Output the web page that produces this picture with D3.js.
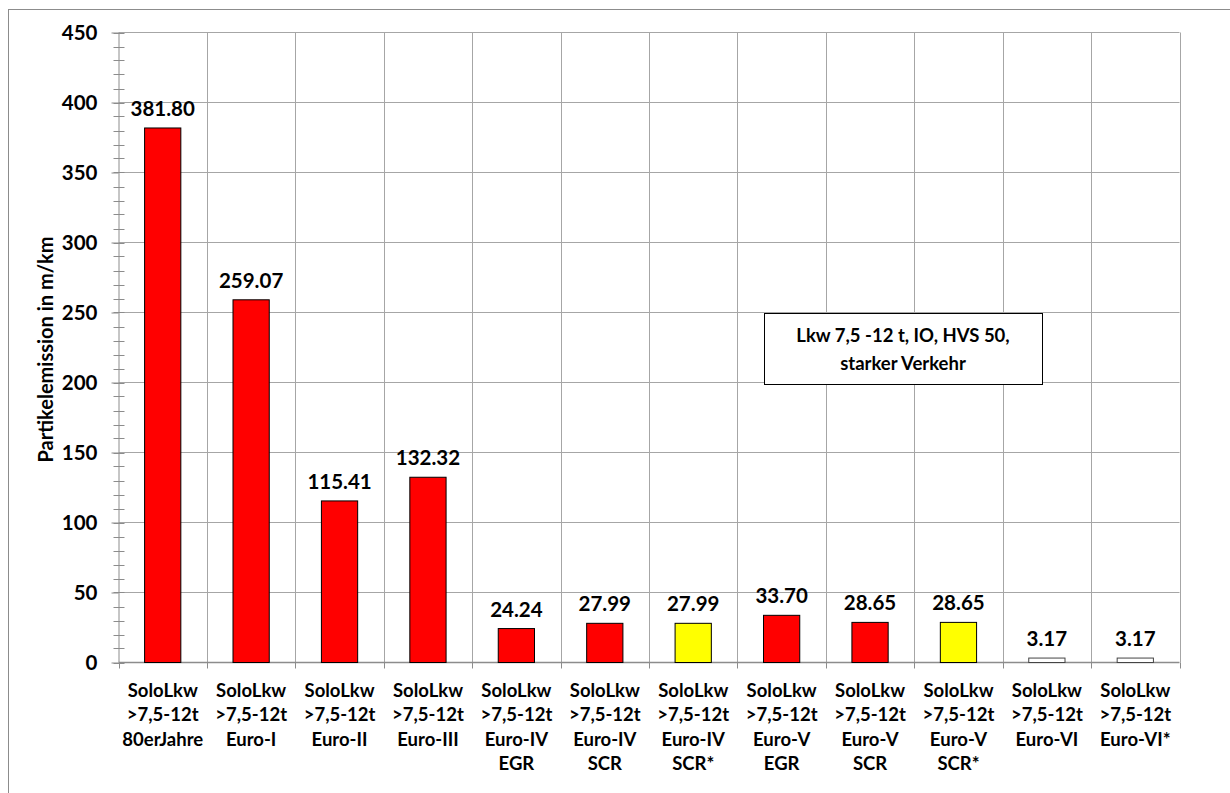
<!DOCTYPE html>
<html><head><meta charset="utf-8">
<script src="https://cdn.jsdelivr.net/npm/d3@7"></script>
<style>
html,body{margin:0;padding:0;background:#fff;}
svg{display:block;}
text{font-family:Lato,"Open Sans",sans-serif;font-weight:bold;fill:#000;}
</style></head>
<body>
<svg id="c" width="1230" height="793"></svg>
<script>
const categories = [
  ["SoloLkw", ">7,5-12t", "80erJahre"],
  ["SoloLkw", ">7,5-12t", "Euro-I"],
  ["SoloLkw", ">7,5-12t", "Euro-II"],
  ["SoloLkw", ">7,5-12t", "Euro-III"],
  ["SoloLkw", ">7,5-12t", "Euro-IV", "EGR"],
  ["SoloLkw", ">7,5-12t", "Euro-IV", "SCR"],
  ["SoloLkw", ">7,5-12t", "Euro-IV", "SCR*"],
  ["SoloLkw", ">7,5-12t", "Euro-V", "EGR"],
  ["SoloLkw", ">7,5-12t", "Euro-V", "SCR"],
  ["SoloLkw", ">7,5-12t", "Euro-V", "SCR*"],
  ["SoloLkw", ">7,5-12t", "Euro-VI"],
  ["SoloLkw", ">7,5-12t", "Euro-VI*"]
];
const values = [381.80, 259.07, 115.41, 132.32, 24.24, 27.99, 27.99, 33.70, 28.65, 28.65, 3.17, 3.17];
const groups = ["std","std","std","std","std","std","star","std","std","star","vi","vi"];
const yTicks = [0, 50, 100, 150, 200, 250, 300, 350, 400, 450];
const yTitle = "Partikelemission in m/km";
const noteLines = ["Lkw 7,5 -12 t, IO, HVS 50,", "starker Verkehr"];

const fillFor = {std: "#ff0000", star: "#ffff00", vi: "#ffffff"};

const svg = d3.select("#c");
const L = 118.5, R = 1179.5, T = 32.5, B = 662.5;

// outer frame
svg.append("rect").attr("x", 8.5).attr("y", 9.5).attr("width", 1400).attr("height", 1000)
  .attr("fill", "none").attr("stroke", "#8c8c8c").attr("stroke-width", 1);

const x = d3.scaleBand().domain(d3.range(categories.length)).range([L, R]).paddingInner(0).paddingOuter(0);
const y = d3.scaleLinear().domain([0, 450]).range([B, T]);
const bw = x.bandwidth() * 0.41;

const grid = "#a6a6a6";
svg.append("g").selectAll("line").data(yTicks.filter(d => d > 0)).join("line")
  .attr("x1", L).attr("x2", R).attr("y1", d => y(d)).attr("y2", d => y(d))
  .attr("stroke", grid).attr("stroke-width", 1);
const bounds = d3.range(categories.length + 1).map(i => L + i * x.step());
svg.append("g").selectAll("line").data(bounds.slice(1)).join("line")
  .attr("x1", d => Math.round(d) + 0.5).attr("x2", d => Math.round(d) + 0.5)
  .attr("y1", T).attr("y2", B)
  .attr("stroke", grid).attr("stroke-width", 1);
svg.append("g").selectAll("line").data(bounds).join("line")
  .attr("x1", d => Math.round(d) + 0.5).attr("x2", d => Math.round(d) + 0.5)
  .attr("y1", B).attr("y2", B + 6)
  .attr("stroke", "#8c8c8c").attr("stroke-width", 1);

const yAxis = d3.axisLeft(y).tickValues(yTicks).tickSize(7).tickPadding(14).tickFormat(d3.format("d"));
const gy = svg.append("g").attr("transform", `translate(${L},0)`).call(yAxis);
gy.select(".domain").attr("stroke", "#8c8c8c").attr("d", `M0.5,${T}V${B}`);
gy.selectAll(".tick line").attr("stroke", "#8c8c8c");
gy.selectAll(".tick text").attr("font-size", 20.5).attr("font-family", "Lato, sans-serif").attr("font-weight", "bold").attr("fill", "#000");
svg.append("g").selectAll("line").data(d3.range(0, 451, 10)).join("line")
  .attr("x1", L - 5).attr("x2", L + 6).attr("y1", d => Math.round(y(d)) + 0.5).attr("y2", d => Math.round(y(d)) + 0.5)
  .attr("stroke", "#8c8c8c").attr("stroke-width", 1);
svg.append("line").attr("x1", L).attr("x2", R).attr("y1", B).attr("y2", B)
  .attr("stroke", "#8c8c8c").attr("stroke-width", 1.5);

svg.append("g").selectAll("rect").data(values).join("rect")
  .attr("x", (d, i) => x(i) + x.bandwidth() / 2 - bw / 2)
  .attr("y", d => y(d))
  .attr("width", bw)
  .attr("height", d => B - y(d))
  .attr("fill", (d, i) => fillFor[groups[i]])
  .attr("stroke", (d, i) => groups[i] === "vi" ? "#444" : "#000")
  .attr("stroke-width", 1);

svg.append("g").selectAll("text").data(values).join("text")
  .attr("x", (d, i) => x(i) + x.bandwidth() / 2)
  .attr("y", d => y(d) - 12)
  .attr("text-anchor", "middle").attr("font-size", 20.5)
  .text(d => d.toFixed(2));

const cl = svg.append("g").selectAll("text").data(categories).join("text")
  .attr("text-anchor", "middle").attr("font-size", 18.5)
  .attr("transform", (d, i) => `translate(${x(i) + x.bandwidth() / 2},697)`);
cl.selectAll("tspan").data(d => d).join("tspan")
  .attr("x", 0).attr("dy", (d, i) => i === 0 ? 0 : 24.3).text(d => d);

svg.append("text").attr("transform", `translate(53,${(T + B) / 2 + 2}) rotate(-90)`)
  .attr("text-anchor", "middle").attr("font-size", 20).text(yTitle);

const nb = svg.append("g");
nb.append("rect").attr("x", 764.5).attr("y", 313.5).attr("width", 278).attr("height", 71)
  .attr("fill", "#fff").attr("stroke", "#000").attr("stroke-width", 1);
nb.selectAll("text").data(noteLines).join("text")
  .attr("x", 903).attr("y", (d, i) => 342 + i * 28)
  .attr("text-anchor", "middle").attr("font-size", 18.5).text(d => d);
</script>
</body></html>
